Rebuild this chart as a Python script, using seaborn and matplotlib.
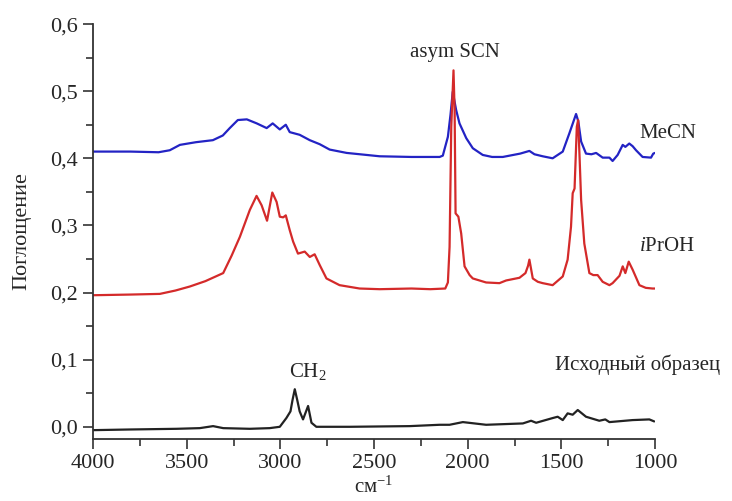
import matplotlib
matplotlib.use("Agg")
import matplotlib.pyplot as plt
from matplotlib.ticker import MultipleLocator, FuncFormatter
import seaborn as sns
import pandas as pd

# ----------------------------
# Spectra (wavenumber, absorbance)
# ----------------------------
MECN_WN = [4000, 3800, 3650, 3590, 3536, 3450, 3360, 3307, 3270, 3227, 3179, 3126,
           3073, 3041, 3003, 2971, 2950, 2897, 2843, 2790, 2737, 2646, 2540, 2470,
           2300, 2150, 2133, 2106, 2092, 2080, 2062, 2044, 2008, 1973, 1920, 1870,
           1813, 1720, 1671, 1644, 1600, 1547, 1493, 1458, 1422, 1410, 1395, 1369,
           1340, 1315, 1280, 1244, 1227, 1200, 1173, 1159, 1138, 1120, 1102, 1067,
           1022, 1010, 1000]
MECN_ABS = [0.410, 0.410, 0.409, 0.412, 0.420, 0.424, 0.427, 0.434, 0.445, 0.457, 0.458, 0.452,
            0.445, 0.452, 0.443, 0.450, 0.439, 0.435, 0.427, 0.421, 0.413, 0.408, 0.405, 0.403,
            0.402, 0.402, 0.404, 0.432, 0.465, 0.499, 0.472, 0.452, 0.430, 0.415, 0.405, 0.402,
            0.402, 0.407, 0.411, 0.406, 0.403, 0.400, 0.410, 0.437, 0.466, 0.455, 0.425, 0.407,
            0.406, 0.408, 0.401, 0.401, 0.396, 0.405, 0.420, 0.417, 0.422, 0.418, 0.412, 0.402,
            0.401, 0.407, 0.408]

IPROH_WN = [4000, 3800, 3643, 3560, 3483, 3400, 3305, 3260, 3216, 3163, 3127, 3100,
            3071, 3043, 3020, 3003, 2985, 2971, 2950, 2932, 2906, 2870, 2843, 2817,
            2790, 2754, 2684, 2577, 2470, 2300, 2200, 2120, 2106, 2097, 2088, 2076,
            2070, 2065, 2050, 2035, 2017, 1990, 1973, 1902, 1831, 1795, 1724, 1692,
            1678, 1671, 1662, 1653, 1626, 1600, 1547, 1493, 1467, 1449, 1440, 1430,
            1418, 1411, 1403, 1395, 1378, 1351, 1330, 1307, 1280, 1244, 1227, 1190,
            1173, 1159, 1141, 1120, 1084, 1050, 1014, 1000]
IPROH_ABS = [0.196, 0.197, 0.198, 0.203, 0.209, 0.217, 0.229, 0.255, 0.283, 0.323, 0.344, 0.330,
             0.307, 0.349, 0.335, 0.313, 0.312, 0.315, 0.293, 0.276, 0.258, 0.261, 0.253, 0.257,
             0.241, 0.221, 0.211, 0.206, 0.205, 0.206, 0.205, 0.206, 0.215, 0.268, 0.447, 0.531,
             0.470, 0.318, 0.313, 0.288, 0.239, 0.226, 0.221, 0.215, 0.214, 0.218, 0.222, 0.229,
             0.240, 0.249, 0.235, 0.221, 0.216, 0.214, 0.211, 0.224, 0.249, 0.298, 0.348, 0.355,
             0.447, 0.457, 0.400, 0.338, 0.273, 0.229, 0.226, 0.226, 0.216, 0.211, 0.214, 0.225,
             0.239, 0.229, 0.246, 0.234, 0.211, 0.207, 0.206, 0.206]

INIT_WN = [4000, 3800, 3554, 3430, 3359, 3305, 3163, 3057, 3003, 2968, 2946, 2935,
           2923, 2910, 2897, 2879, 2852, 2834, 2808, 2630, 2310, 2150, 2097, 2026,
           1902, 1706, 1662, 1635, 1547, 1520, 1493, 1467, 1440, 1413, 1369, 1298,
           1266, 1244, 1120, 1031, 1005]
INIT_ABS = [-0.005, -0.004, -0.003, -0.002, 0.001, -0.002, -0.003, -0.002, 0.000, 0.013, 0.023, 0.040,
            0.056, 0.040, 0.023, 0.011, 0.031, 0.006, 0.000, 0.000, 0.001, 0.003, 0.003, 0.007,
            0.003, 0.005, 0.009, 0.006, 0.013, 0.015, 0.010, 0.020, 0.018, 0.025, 0.015, 0.009,
            0.011, 0.007, 0.010, 0.011, 0.008]

X_TICKS = [4000, 3500, 3000, 2500, 2000, 1500, 1000]
Y_TICKS = [0.0, 0.1, 0.2, 0.3, 0.4, 0.5, 0.6]

SERIES = [
    (MECN_WN, MECN_ABS, "#2323c4"),
    (IPROH_WN, IPROH_ABS, "#d42a2a"),
    (INIT_WN, INIT_ABS, "#222222"),
]

sns.set_style("ticks")
plt.rcParams['font.family'] = ['Liberation Serif', 'DejaVu Serif']
plt.rcParams['mathtext.fontset'] = 'custom'
plt.rcParams['mathtext.rm'] = 'Liberation Serif'
plt.rcParams['mathtext.it'] = 'Liberation Serif:italic'

fig = plt.figure(figsize=(7.32, 5.01), dpi=100)
ax = fig.add_axes([0.127, 0.124, 0.768, 0.828])

for wn, ab, col in SERIES:
    df = pd.DataFrame({"wn": wn, "abs": ab})
    sns.lineplot(data=df, x="wn", y="abs", sort=False, estimator=None,
                 color=col, linewidth=1.6, ax=ax)

ax.set_xlim(4000, 1000)
ax.set_ylim(-0.018, 0.6)
ax.set_xticks(X_TICKS)
ax.set_yticks(Y_TICKS)
ax.xaxis.set_minor_locator(MultipleLocator(250))
ax.yaxis.set_minor_locator(MultipleLocator(0.05))
ax.yaxis.set_major_formatter(FuncFormatter(lambda v, p: f"{v:.1f}".replace(".", ",")))
ax.tick_params(axis='both', which='major', length=7, width=1.2, labelsize=16,
               color='#333333', pad=4)
ax.tick_params(axis='both', which='minor', length=5, width=1.2, color='#333333')

for s in ['top', 'right']:
    ax.spines[s].set_visible(False)
for s in ['left', 'bottom']:
    ax.spines[s].set_linewidth(1.3)
    ax.spines[s].set_color('#333333')

ax.set_xlabel("см$^{-1}$", fontsize=15)
ax.set_ylabel("Поглощение", fontsize=16)
ax.xaxis.set_label_coords(0.5, -0.092)
ax.yaxis.set_label_coords(-0.11, 0.5)

# annotations
ax.text(2070, 0.558, "asym SCN", fontsize=15, ha='center', va='center')
ax.text(1085, 0.437, "MeCN", fontsize=15, ha='left', va='center')
ax.text(1085, 0.269, "$\\it{i}$PrOH", fontsize=15, ha='left', va='center')
ax.text(2854, 0.082, "CH$_2$", fontsize=15, ha='center', va='center')
ax.text(1537, 0.092, "Исходный образец", fontsize=15, ha='left', va='center',
        clip_on=False)

fig.savefig("out.png", dpi=100)
